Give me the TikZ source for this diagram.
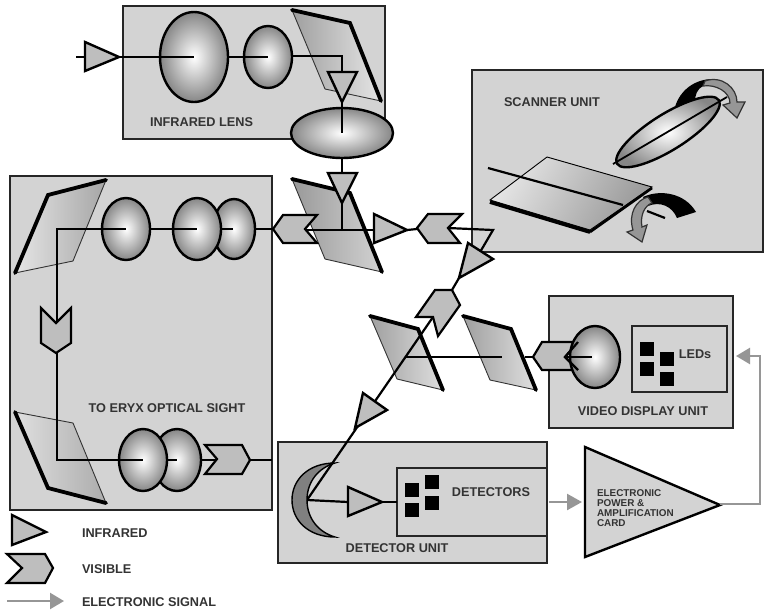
\documentclass[tikz,border=0pt]{standalone}
\usepackage{fontspec}
\setmainfont{Liberation Sans}
\usepackage{tikz}
\usetikzlibrary{arrows.meta, calc}

\begin{document}
\begin{tikzpicture}[x=1pt, y=-1pt, line width=2pt, line join=miter,
  unitbox/.style={draw=black!85, fill=boxgray, line width=2.6pt},
  lens/.style={draw=black, line width=2.4pt, inner color=white, outer color=gray!95},
  mirror/.style={draw=black!80, line width=0.9pt},
  mirroredge/.style={draw=black, line width=3.8pt, line cap=round},
  infrared/.style={draw=black, fill=raygray, line width=2.4pt},
  visible/.style={draw=black, fill=raygray, line width=2.2pt},
  beam/.style={draw=black, line width=2.2pt},
  dot/.style={fill=black},
  label/.style={font=\bfseries\fontsize{12.7}{14}\selectfont, text=black!80, inner sep=0pt},
  signal/.style={draw=signalgray, line width=2.4pt}]
  % colours
  \definecolor{boxgray}{RGB}{211,211,211}
  \definecolor{raygray}{RGB}{190,190,190}
  \definecolor{signalgray}{RGB}{150,150,150}

  \useasboundingbox (0,0) rectangle (766,611);
  \fill[white] (0,0) rectangle (766,611);

  % --- unit boxes ---
  \draw[unitbox] (123,6) rectangle (385,139);
  \draw[unitbox] (10,176) rectangle (272,510);
  \draw[unitbox] (472,70) rectangle (763,252);
  \draw[unitbox] (549,296) rectangle (733,428);
  \draw[unitbox] (278,442) rectangle (547,563);
  \draw[unitbox] (632,326) rectangle (727,392);
  \draw[unitbox] (397,468) rectangle (547,536);

  % --- infrared lens ---
  \coordinate (InLeft) at (76,57);
  \coordinate (LensA) at (194,57);
  \coordinate (LensB) at (268,57);
  \coordinate (Turn) at (342,56);
  \coordinate (LensC) at (342,133);
  \shade[mirror, left color=gray!75, right color=gray!20] (292,10) -- (350,23) -- (381,101) -- (325,89) -- cycle;
  \draw[mirroredge] (292,10) -- (350,23) -- (381,101);
  \draw[lens] (LensA) ellipse (34 and 45);
  \draw[lens] (LensB) ellipse (24 and 31);
  \draw[lens] (LensC) ellipse (51 and 25);
  \draw[beam] (InLeft) -- (LensA);
  \draw[beam] (228,57) -- (LensB);
  \draw[beam] (292,56) -- (Turn) -- (LensC);
  \draw[infrared] (85,42) -- (119,57) -- (85,71) -- cycle;
  \draw[infrared] (328,72) -- (357,72) -- (342,102) -- cycle;
  \node[label, anchor=west] (LensText) at (149,122) {INFRARED LENS};

  % --- centre mirror ---
  \coordinate (Split) at (342,230);
  \shade[mirror, left color=gray!80, right color=gray!35] (292,179) -- (350,193) -- (382,272) -- (325,259) -- cycle;
  \draw[mirroredge] (292,179) -- (350,193) -- (382,272);
  \draw[beam] (342,158) -- (Split);
  \draw[beam] (305,230) -- (374,230);
  \draw[infrared] (328,173) -- (357,173) -- (342,203) -- cycle;
  \draw[visible] (273,229) -- (283,215) -- (317,215) -- (305,229) -- (317,243) -- (283,243) -- cycle;

  % --- eryx sight ---
  \coordinate (Corner) at (57,229);
  \coordinate (CornerB) at (57,460);
  \shade[mirror, left color=gray!20, right color=gray!70] (15,273) -- (48,195) -- (106,180) -- (73,261) -- cycle;
  \draw[mirroredge] (15,273) -- (48,195) -- (106,180);
  \shade[mirror, left color=gray!25, right color=gray!65] (15,412) -- (73,423) -- (106,503) -- (48,488) -- cycle;
  \draw[mirroredge] (15,412) -- (48,488) -- (106,503);
  \draw[lens] (126,229) ellipse (24 and 31);
  \draw[lens] (234,229) ellipse (21 and 30);
  \draw[lens] (197,229) ellipse (24 and 31);
  \draw[lens] (177,460) ellipse (24 and 31);
  \draw[lens] (143,460) ellipse (24 and 31);
  \draw[beam] (126,229) -- (Corner) -- (CornerB) -- (143,460);
  \draw[beam] (150,229) -- (197,229);
  \draw[beam] (221,229) -- (233,229);
  \draw[beam] (255,229) -- (273,229);
  \draw[beam] (167,460) -- (177,460);
  \draw[beam] (201,460) -- (217,460);
  \draw[beam] (250,460) -- (272,460);
  \draw[visible] (41,308) -- (56,323) -- (71,308) -- (71,343) -- (56,353) -- (41,343) -- cycle;
  \draw[visible] (205,445) -- (242,445) -- (250,460) -- (242,474) -- (205,474) -- (217,459) -- cycle;
  \node[label] (SightText) at (167,408) {TO ERYX OPTICAL SIGHT};

  % --- scanner unit ---
  \node[label, anchor=west] (ScannerText) at (503,102) {SCANNER UNIT};
  \fill[black] (675,107) .. controls (680,90) and (695,79) .. (713,79) -- (703,86) .. controls (697,89) and (695,95) .. (695,102) -- cycle;
  \draw[draw=black!80, fill=signalgray, line width=1.2pt] (705,81) .. controls (722,75) and (737,88) .. (737,102) -- (745,102) -- (737,118) -- (723,105) -- (730,103) .. controls (730,92) and (716,84) .. (703,86) -- cycle;
  \draw[lens, shift={(668,132)}, rotate=32] (0,0) ellipse (60 and 18);
  \draw[beam, line width=1.8pt] (613,164) -- (727,97);
  \shade[draw=black, line width=0.9pt, left color=gray!20, right color=gray!80, shading angle=60] (490,200) -- (547,157) -- (652,187) -- (590,230) -- cycle;
  \draw[draw=black, line width=3.8pt] (490,202) -- (590,232);
  \draw[draw=black, line width=2.6pt] (590,232) -- (652,188);
  \draw[beam] (488,168) -- (623,205);
  \draw[beam] (647,211) -- (665,218);
  \fill[black] (643,197) .. controls (660,189) and (685,193) .. (696,212) -- (677,218) .. controls (672,206) and (660,201) .. (648,206) -- cycle;
  \draw[draw=black!80, fill=signalgray, line width=1.2pt] (648,197) .. controls (636,200) and (628,214) .. (633,230) -- (627,232) -- (642,242) -- (647,225) -- (642,227) .. controls (640,216) and (644,206) .. (652,203) -- cycle;

  % --- folded beam ---
  \coordinate (Bend) at (493,230);
  \coordinate (Notch) at (433,317);
  \coordinate (Crescent) at (307,500);
  \draw[beam] (448,228) -- (Bend) -- (476,259);
  \draw[beam] (407,230) -- (417,229);
  \draw[beam] (459,278) -- (452,290);
  \draw[infrared] (374,214) -- (407,230) -- (374,243) -- cycle;
  \draw[visible] (417,228) -- (428,214) -- (462,214) -- (448,228) -- (460,243) -- (428,243) -- cycle;
  \draw[infrared] (468,243) -- (493,259) -- (459,278) -- cycle;

  % --- beam to the video unit ---
  \shade[mirror, left color=gray!75, right color=gray!25] (370,316) -- (418,329) -- (443,390) -- (397,379) -- cycle;
  \draw[mirroredge] (370,316) -- (418,329) -- (443,390);
  \shade[mirror, left color=gray!75, right color=gray!25] (463,316) -- (511,329) -- (536,390) -- (490,380) -- cycle;
  \draw[mirroredge] (463,316) -- (511,329) -- (536,390);
  \draw[beam] (405,357) -- (502,357);
  \draw[beam] (525,357) -- (533,357);
  \draw[beam] (Notch) -- (Crescent);
  \draw[visible] (435,290) -- (452,290) -- (460,305) -- (438,336) -- (433,317) -- (416,317) -- cycle;
  \draw[infrared] (363,393) -- (387,410) -- (355,428) -- cycle;

  % --- video display unit ---
  \draw[visible] (533,357) -- (542,342) -- (578,342) -- (565,357) -- (578,370) -- (542,370) -- cycle;
  \draw[lens] (595,357) ellipse (25 and 31);
  \draw[beam] (578,342) -- (565,357) -- (578,370);
  \draw[beam] (565,357) -- (592,357);
  \fill[dot] (640,342) rectangle ++(14,14);
  \fill[dot] (660,352) rectangle ++(14,14);
  \fill[dot] (640,362) rectangle ++(14,14);
  \fill[dot] (660,372) rectangle ++(14,14);
  \node[label] (LedText) at (695,354) {LEDs};
  \node[label] (VideoText) at (643,411) {VIDEO DISPLAY UNIT};

  % --- detector unit ---
  \fill[fill=gray, draw=black, line width=1.4pt] (335,463) .. controls (308,463) and (292,480) .. (292,500)
    .. controls (292,520) and (308,537) .. (335,537) .. controls (318,532) and (307,518) .. (307,500)
    .. controls (307,482) and (318,468) .. (335,463) -- cycle;
  \draw[beam] (Crescent) -- (348,502);
  \draw[beam] (382,502) -- (397,502);
  \draw[infrared] (348,487) -- (382,502) -- (348,516) -- cycle;
  \fill[dot] (405,483) rectangle ++(14,14);
  \fill[dot] (425,475) rectangle ++(14,14);
  \fill[dot] (405,503) rectangle ++(14,14);
  \fill[dot] (425,496) rectangle ++(14,14);
  \node[label] (DetectorsText) at (491,492) {DETECTORS};
  \node[label] (DetectorText) at (397,548) {DETECTOR UNIT};

  % --- amplifier ---
  \draw[draw=black, fill=boxgray, line width=2.4pt] (585,447) -- (720,505) -- (585,557) -- cycle;
  \node[font=\bfseries\fontsize{9.9}{10}\selectfont, text=black!80, align=left, anchor=west, inner sep=0pt] (CardText) at (596,508)
    {ELECTRONIC\\POWER \&\\AMPLIFICATION\\CARD};

  % --- electronic signal ---
  \coordinate (SigA) at (549,502);
  \coordinate (SigB) at (582,502);
  \coordinate (SigC) at (720,504);
  \coordinate (SigD) at (760,504);
  \coordinate (SigE) at (760,356);
  \coordinate (SigF) at (736,356);
  \draw[signal, -{Triangle[length=15pt, width=16pt]}] (SigA) -- (SigB);
  \draw[signal, -{Triangle[length=14pt, width=16pt]}] (SigC) -- (SigD) -- (SigE) -- (SigF);

  % --- legend ---
  \draw[infrared] (12,515) -- (46,532) -- (12,545) -- cycle;
  \draw[visible] (7,554) -- (45,554) -- (53,568) -- (45,583) -- (7,583) -- (22,568) -- cycle;
  \draw[signal, -{Triangle[length=14pt, width=16pt]}] (7,601) -- (64,601);
  \node[label, anchor=west] (InfraText) at (81,533) {INFRARED};
  \node[label, anchor=west] (VisText) at (81,569) {VISIBLE};
  \node[label, anchor=west] (SigText) at (81,602) {ELECTRONIC SIGNAL};
\end{tikzpicture}
\end{document}
